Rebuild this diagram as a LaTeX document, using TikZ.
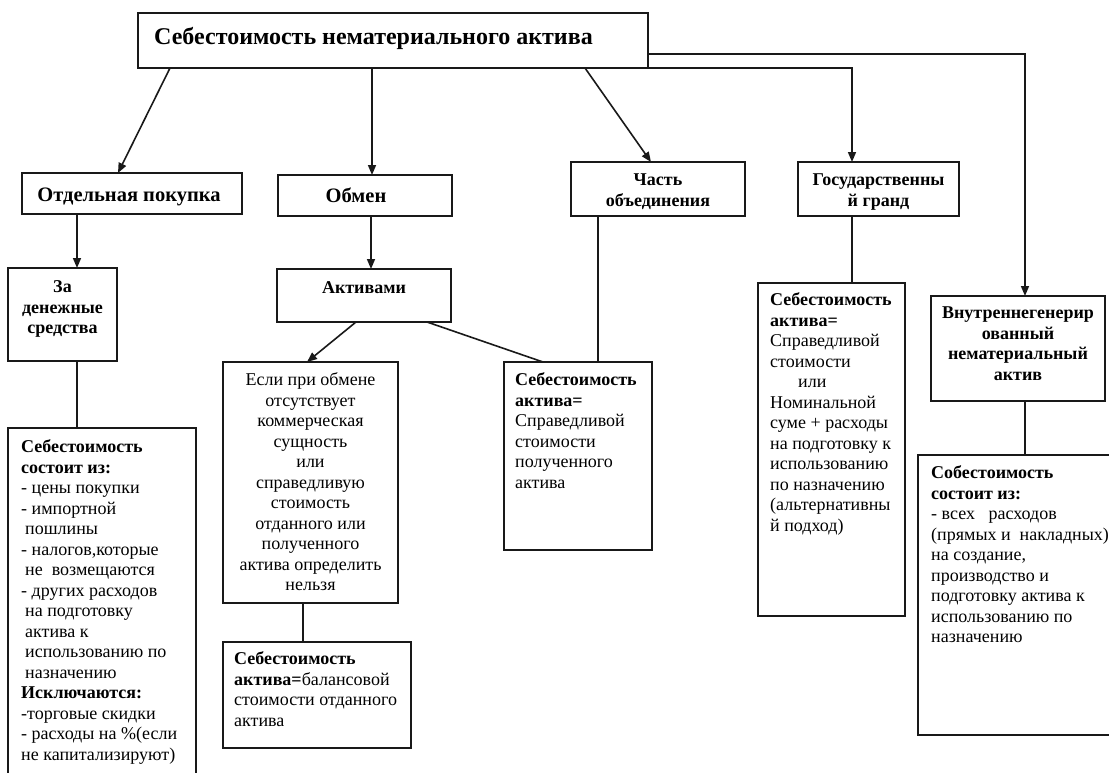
\documentclass[tikz,border=0pt]{standalone}
\usepackage{fontspec}
\setmainfont{Liberation Serif}
\usetikzlibrary{arrows.meta,calc}
\begin{document}
\begin{tikzpicture}[x=1pt,y=-1pt,
  box/.style={draw=black!90, line width=1.6pt, inner sep=0pt, outer sep=0pt},
  conn/.style={draw=black!90, line width=1.6pt},
  arr/.style={conn, -{Triangle[length=10pt,width=8pt]}},
  body/.style={inner sep=0pt, font=\fontsize{18}{20.5}\selectfont, align=left, anchor=north west},
  bodyc/.style={body, align=center, anchor=north},
  head/.style={inner sep=0pt, font=\fontsize{18}{20.5}\selectfont\bfseries, align=center, anchor=north},
  big/.style={inner sep=0pt, font=\fontsize{20.5}{24}\selectfont\bfseries, anchor=mid},
]
\useasboundingbox (0,0) rectangle (1109,772);
\clip (0,0) rectangle (1109,772);

% boxes
\node[box, minimum width=510pt, minimum height=55pt] (top) at (393,40.5) {};
\node[box, minimum width=220pt, minimum height=41pt] (oth) at (132,193.5) {};
\node[box, minimum width=174pt, minimum height=41pt] (obm) at (365,195.5) {};
\node[box, minimum width=174pt, minimum height=54pt] (chast) at (658,189) {};
\node[box, minimum width=161pt, minimum height=54pt] (gos) at (878.5,189) {};
\node[box, minimum width=109pt, minimum height=93pt] (za) at (62.5,314.5) {};
\node[box, minimum width=174pt, minimum height=53pt] (akt) at (364,295.5) {};
\node[box, minimum width=175pt, minimum height=241pt] (esli) at (310.5,482.5) {};
\node[box, minimum width=148pt, minimum height=188pt] (sprav) at (578,456) {};
\node[box, minimum width=147pt, minimum height=333pt] (gost) at (831.5,449.5) {};
\node[box, minimum width=174pt, minimum height=105pt] (vnutr) at (1018,348.5) {};
\node[box, minimum width=188pt, minimum height=372pt] (lbox) at (102,614) {};
\node[box, minimum width=188pt, minimum height=106pt] (bal) at (317,695) {};
\node[box, minimum width=202pt, minimum height=280pt] (rbox) at (1019,595) {};

% texts
\node[inner sep=0pt, font=\fontsize{24}{28}\selectfont\bfseries, anchor=mid west] (titletxt) at (154,42) {Себестоимость нематериального актива};
\node[big] (othtxt) at (129,199) {Отдельная покупка};
\node[big] (obmtxt) at (356,200) {Обмен};
\node[head] (chasttxt) at (658,171) {\strut Часть\\объединения};
\node[head] (gostxt) at (878.5,171) {\strut Государственны\\й гранд};
\node[head] (zatxt) at (62.5,278) {\strut За\\денежные\\средства};
\node[head] (akttxt) at (364,279) {\strut Активами};
\node[head] (vnutrtxt) at (1018,304) {\strut Внутреннегенерир\\ованный\\нематериальный\\актив};

\node[body] (lboxtxt) at (21,438) {\strut\textbf{Себестоимость}\\
\textbf{состоит из:}\\
- цены покупки\\
- импортной\\
\hspace*{4pt}пошлины\\
- налогов,которые\\
\hspace*{4pt}не\ \ возмещаются\\
- других расходов\\
\hspace*{4pt}на подготовку\\
\hspace*{4pt}актива к\\
\hspace*{4pt}использованию по\\
\hspace*{4pt}назначению\\
\textbf{Исключаются:}\\
-торговые скидки\\
- расходы на \%(если\\
не капитализируют)};

\node[bodyc] (eslitxt) at (310.5,371) {\strut Если при обмене\\отсутствует\\коммерческая\\сущность\\или\\справедливую\\стоимость\\отданного или\\полученного\\актива определить\\нельзя};

\node[body] (spravtxt) at (515,371) {\strut\textbf{Себестоимость}\\\textbf{актива=}\\Справедливой\\стоимости\\полученного\\актива};

\node[body] (baltxt) at (234,650) {\strut\textbf{Себестоимость}\\\textbf{актива=}балансовой\\стоимости отданного\\актива};

\node[body] (gosttxt) at (770,291) {\strut\textbf{Себестоимость}\\\textbf{актива=}\\Справедливой\\стоимости\\\hspace*{28pt}или\\Номинальной\\суме + расходы\\на подготовку к\\использованию\\по назначению\\(альтернативны\\й подход)};

\node[body] (rboxtxt) at (931,464) {\strut\textbf{Собестоимость}\\\textbf{состоит из:}\\- всех\ \ \ расходов\\(прямых и\ \ накладных)\\на создание,\\производство и\\подготовку актива к\\использованию по\\назначению};

% connector anchor points
\path ([xshift=94pt]obm.north west) coordinate (obmIn)
      ([xshift=54pt]gos.north west) coordinate (gosIn)
      ([xshift=94pt]vnutr.north west) coordinate (vIn)
      ([xshift=69pt]za.north west) coordinate (zaIn)
      ([xshift=94pt]akt.north west) coordinate (aktIn)
      ([xshift=27pt]chast.south west) coordinate (chOut)
      ([xshift=80pt]esli.south west) coordinate (esOut);

% connectors
\draw[arr] ([xshift=32pt]top.south west) -- ([xshift=96pt]oth.north west);
\draw[arr] (top.south -| obmIn) -- (obmIn);
\draw[arr] ([xshift=447pt]top.south west) -- ([xshift=80pt]chast.north west);
\draw[arr] (top.south east) -| (gosIn);
\draw[arr] ([yshift=14pt]top.south east) -| (vIn);
\draw[arr] (oth.south -| zaIn) -- (zaIn);
\draw[arr] (obm.south -| aktIn) -- (aktIn);
\draw[conn] (za.south -| zaIn) -- (lbox.north -| zaIn);
\draw[arr] ([xshift=79pt]akt.south west) -- ([xshift=84pt]esli.north west);
\draw[conn] ([xshift=150pt]akt.south west) -- ([xshift=39pt]sprav.north west);
\draw[conn] (chOut) -- (sprav.north -| chOut);
\draw[conn] (gos.south -| gosIn) -- (gost.north -| gosIn);
\draw[conn] (esOut) -- (bal.north -| esOut);
\draw[conn] (vnutr.south -| vIn) -- (rbox.north -| vIn);
\end{tikzpicture}
\end{document}
